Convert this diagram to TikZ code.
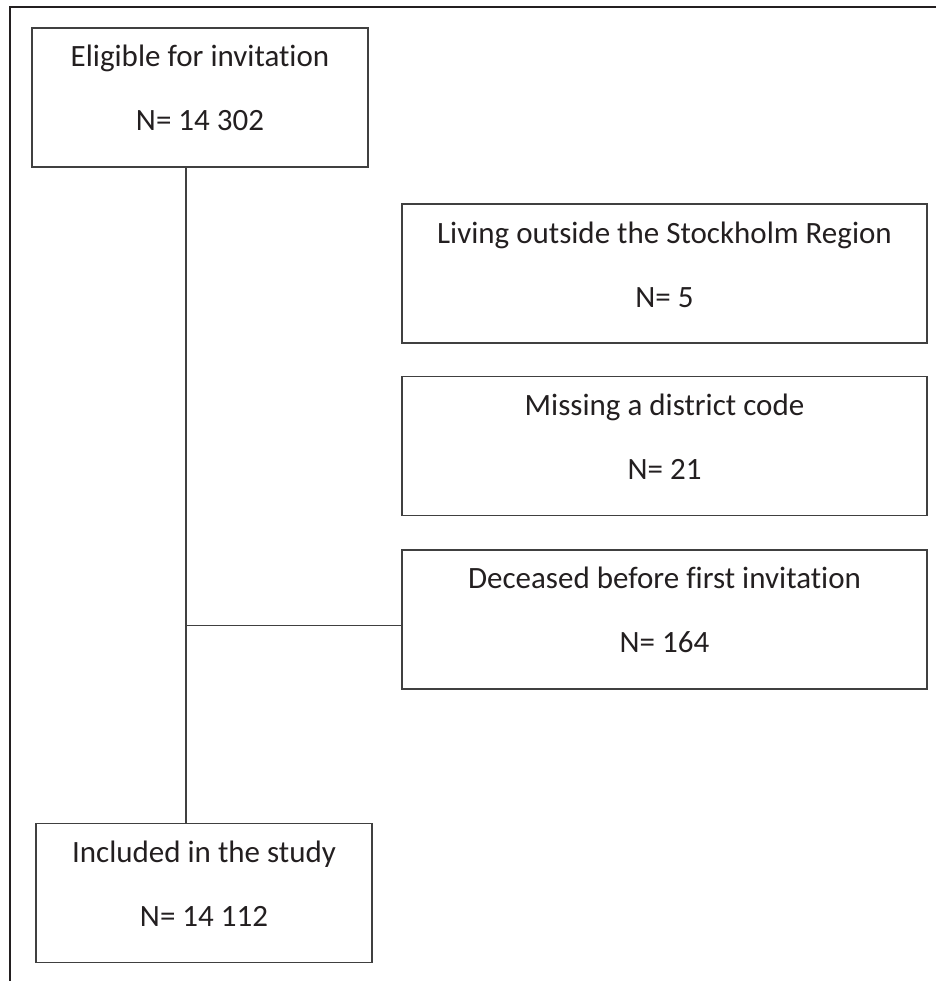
\documentclass[tikz,border=0pt]{standalone}
\usepackage{fontspec}
\setmainfont{Carlito}[Ligatures=NoCommon]
\usetikzlibrary{positioning}
\definecolor{inkdark}{HTML}{231F20}
\definecolor{boxgray}{HTML}{404040}
\newcommand{\boxlines}[2]{\rule{0pt}{39pt}#1\\#2\rule[-36pt]{0pt}{36pt}}

\begin{document}
\begin{tikzpicture}[x=1pt,y=1pt]
    \tikzstyle{flowbox} = [draw=boxgray, line width=1.4pt, rectangle, inner sep=0pt,
                           minimum height=139pt, align=center, text=inkdark,
                           font=\fontsize{31pt}{64pt}\selectfont]
    \tikzstyle{trunkline} = [draw=boxgray, line width=1.4pt]

    \useasboundingbox (0,0) rectangle (936,-981);
    % open frame round the chart
    \draw[inkdark, line width=2pt] (936,-7) -- (10,-7) -- (10,-981);

    \node[flowbox, minimum width=336pt] (elig) at (200,-97.5) {\boxlines{Eligible for invitation}{N= 14 302}};
    \node[flowbox, minimum width=525pt] (living) at (664.5,-273.5) {\boxlines{Living outside the Stockholm Region}{N= 5}};
    \node[flowbox, minimum width=525pt, below=32pt of living] (missing) {\boxlines{Missing a district code}{N= 21}};
    \node[flowbox, minimum width=525pt, below=33pt of missing] (deceased) {\boxlines{Deceased before first invitation}{N= 164}};
    \node[flowbox, minimum width=336pt] (incl) at (204,-893) {\boxlines{Included in the study}{N= 14 112}};

    \coordinate (trunk) at (186,0);
    \draw[trunkline] (elig.south -| trunk) -- (incl.north -| trunk);
    \draw[trunkline] ([yshift=-6pt]deceased.west -| trunk) -- ([yshift=-6pt]deceased.west);
\end{tikzpicture}
\end{document}
